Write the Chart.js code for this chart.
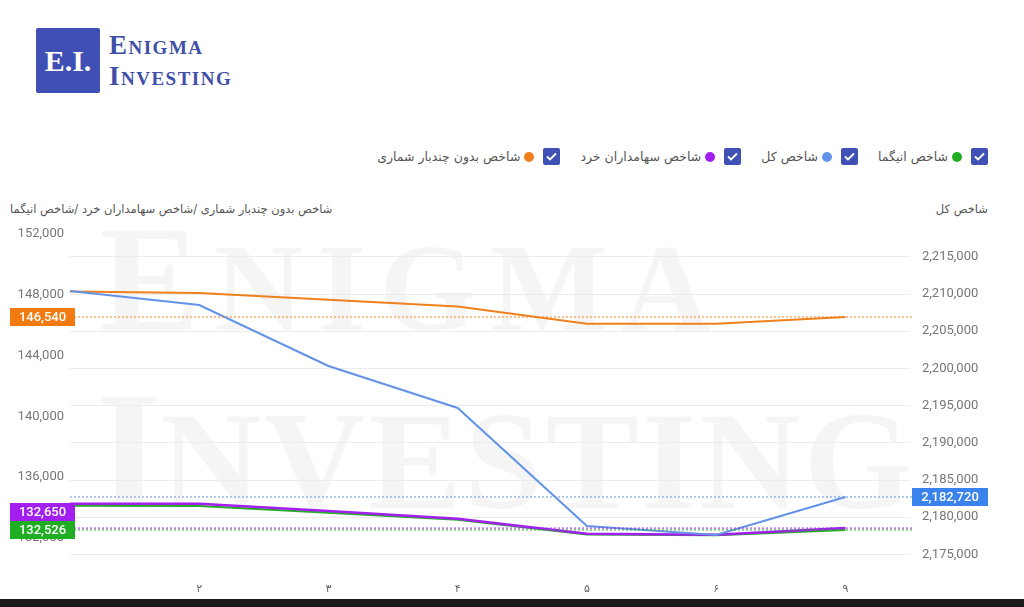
<!DOCTYPE html>
<html lang="fa">
<head>
<meta charset="utf-8">
<title>Enigma Investing</title>
<script src="https://cdn.jsdelivr.net/npm/chart.js@4/dist/chart.umd.min.js"></script>
<style>
  html, body { margin: 0; padding: 0; background: #fff; }
  body { width: 1024px; height: 607px; position: relative; overflow: hidden; font-family: Roboto, "DejaVu Sans", sans-serif; }
  .logo-box { position: absolute; left: 36px; top: 28px; width: 64px; height: 65px; background: #3f4fb3; color: #fff;
    font: bold 30px "Liberation Serif", serif; display: flex; align-items: center; justify-content: center; border-radius: 2px; }
  .logo-text { position: absolute; left: 109px; top: 30px; color: #3f4ea8; font: bold 27px/31px "Liberation Serif", serif;
    font-variant: small-caps; letter-spacing: 1.5px; }
  .legend { position: absolute; top: 148px; right: 36px; display: flex; flex-direction: row; direction: rtl; }
  .legend-item { display: flex; align-items: center; margin-left: 20px; font: 12.5px "DejaVu Sans", sans-serif; color: #555; }
  .legend-item .box { width: 17px; height: 17px; background: #3f51b5; border-radius: 2px; display: flex; align-items: center; justify-content: center; }
  .legend-item .dot { width: 10px; height: 10px; border-radius: 50%; margin-right: 9px; margin-left: 4px; }
  .axis-title { position: absolute; top: 202px; font: 11.5px "DejaVu Sans", sans-serif; color: #555; direction: rtl; white-space: nowrap; }
  #chartWrap { position: absolute; left: 0; top: 200px; width: 1024px; height: 400px; }
  .bottom-bar { position: absolute; left: 0; top: 599px; width: 1024px; height: 8px; background: #1a1a1a; }
</style>
</head>
<body>
<div class="logo-box">E.I.</div>
<div class="logo-text">Enigma<br>Investing</div>
<div class="legend" id="legend"></div>
<div class="axis-title" style="left:10px;">شاخص بدون چندبار شماری /شاخص سهامداران خرد /شاخص انیگما</div>
<div class="axis-title" style="right:36px;">شاخص کل</div>
<div id="chartWrap"><canvas id="indexChart" width="1024" height="400"></canvas></div>
<div class="bottom-bar"></div>

<script>
// روزهای معاملاتی
const xLabels = ['', '۲', '۳', '۴', '۵', '۶', '۹'];

const seriesNames = ['شاخص انیگما', 'شاخص کل', 'شاخص سهامداران خرد', 'شاخص بدون چندبار شماری'];
const seriesColors = ['#22ad25', '#6393e8', '#a31ff0', '#f0801e'];
const tagColors = ['#1fae22', '#3a82ec', '#a21ff0', '#f27a10'];

const enigmaIndex = [134120, 134110, 133660, 133200, 132230, 132180, 132526];
const totalIndex = [2210400, 2208520, 2200320, 2194680, 2178820, 2177610, 2182720];
const smallHoldersIndex = [134250, 134250, 133780, 133260, 132280, 132210, 132650];
const noDoubleCountIndex = [148220, 148110, 147670, 147230, 146100, 146100, 146540];

function toPoints(arr) {
    return arr.map(function (v, i) { return { x: i, y: v }; });
}

// ticks on round multiples of the step only
function stepTicks(step) {
    return function (scale) {
        const ticks = [];
        for (let v = Math.ceil(scale.min / step) * step; v <= scale.max; v += step) ticks.push({ value: v });
        scale.ticks = ticks;
    };
}

const checkSvg = '<svg width="11" height="9" viewBox="0 0 11 9"><path d="M1 4.5 L4 7.5 L10 1.5" fill="none" stroke="#fff" stroke-width="1.8"/></svg>';

// background watermark
const watermark = {
    id: 'watermark',
    beforeDraw(chart) {
        const ctx = chart.ctx;
        ctx.save();
        ctx.fillStyle = 'rgba(0,0,0,0.04)';
        ctx.textBaseline = 'alphabetic';
        ctx.font = 'bold 150px "Liberation Serif", serif';
        ctx.fillText('E', 100, 130);
        ctx.font = 'bold 124px "Liberation Serif", serif';
        ctx.letterSpacing = '14px';
        ctx.fillText('NIGMA', 214, 130);
        ctx.letterSpacing = '0px';
        ctx.font = 'bold 170px "Liberation Serif", serif';
        ctx.fillText('I', 96, 308);
        ctx.font = 'bold 140px "Liberation Serif", serif';
        ctx.letterSpacing = '3px';
        ctx.fillText('NVESTING', 160, 308);
        ctx.restore();
    }
};

// dotted line + value tag for the last point of each series
const lastValueTags = {
    id: 'lastValueTags',
    afterDatasetsDraw(chart) {
        const ctx = chart.ctx;
        const area = chart.chartArea;
        const tags = [];
        chart.data.datasets.forEach(function (ds, i) {
            if (!chart.isDatasetVisible(i)) return;
            const last = ds.data[ds.data.length - 1];
            const y = chart.scales[ds.yAxisID].getPixelForValue(last.y);
            ctx.save();
            ctx.strokeStyle = ds.borderColor;
            ctx.lineWidth = 1;
            ctx.setLineDash([2, 2]);
            ctx.beginPath();
            ctx.moveTo(area.left, y);
            ctx.lineTo(area.right + 2, y);
            ctx.stroke();
            ctx.restore();
            tags.push({ y: y, text: last.y.toLocaleString('en-US'), color: ds.tagColor, side: ds.yAxisID });
        });

        const h = 18;
        // left tags: keep the lowest one, push the others up
        const left = tags.filter(function (t) { return t.side === 'yLeft'; }).sort(function (a, b) { return b.y - a.y; });
        for (let i = 1; i < left.length; i++) {
            if (left[i].y > left[i - 1].y - h) left[i].y = left[i - 1].y - h;
        }

        ctx.save();
        ctx.font = '500 13px Roboto, sans-serif';
        ctx.textAlign = 'center';
        ctx.textBaseline = 'middle';
        tags.forEach(function (t) {
            const x = t.side === 'yLeft' ? 10 : 912;
            const w = t.side === 'yLeft' ? 65 : 76;
            ctx.fillStyle = t.color;
            ctx.fillRect(x, Math.round(t.y - h / 2), w, h);
            ctx.fillStyle = '#fff';
            ctx.fillText(t.text, x + w / 2, t.y + 1);
        });
        ctx.restore();
    }
};

document.addEventListener('DOMContentLoaded', function () {
    const legend = document.getElementById('legend');
    seriesNames.forEach(function (name, i) {
        const item = document.createElement('div');
        item.className = 'legend-item';
        item.innerHTML = '<span class="box">' + checkSvg + '</span><span class="dot" style="background:' + seriesColors[i] + '"></span><span>' + name + '</span>';
        legend.appendChild(item);
    });

    Chart.defaults.font.family = 'Roboto, "DejaVu Sans", sans-serif';

    const ctx = document.getElementById('indexChart');
    const values = [enigmaIndex, totalIndex, smallHoldersIndex, noDoubleCountIndex];
    const axisOf = ['yLeft', 'yRight', 'yLeft', 'yLeft'];
    const drawOrder = [3, 1, 2, 4];

    new Chart(ctx, {
        type: 'line',
        data: {
            datasets: values.map(function (arr, i) {
                return {
                    label: seriesNames[i],
                    data: toPoints(arr),
                    yAxisID: axisOf[i],
                    borderColor: seriesColors[i],
                    backgroundColor: seriesColors[i],
                    tagColor: tagColors[i],
                    borderWidth: i === 2 ? 2.5 : 2,
                    pointRadius: 0,
                    tension: 0,
                    order: drawOrder[i]
                };
            })
        },
        options: {
            responsive: false,
            animation: false,
            layout: { padding: { top: 34, left: 0, right: 0, bottom: 0 } },
            plugins: { legend: { display: false }, tooltip: { enabled: false } },
            scales: {
                x: {
                    type: 'linear',
                    min: 0,
                    max: 6.5,
                    grid: { display: false, drawTicks: false },
                    border: { display: false },
                    afterFit: function (scale) { scale.height = 40; },
                    ticks: {
                        stepSize: 1,
                        padding: 23,
                        color: '#666',
                        font: { size: 11, family: '"DejaVu Sans", sans-serif' },
                        callback: function (v) { return Number.isInteger(v) ? (xLabels[v] || '') : ''; }
                    }
                },
                yLeft: {
                    position: 'left',
                    min: 130550,
                    max: 152000,
                    grid: { display: false, drawTicks: false },
                    border: { display: false },
                    afterFit: function (scale) { scale.width = 70; },
                    afterBuildTicks: stepTicks(4000),
                    ticks: { padding: 6, color: '#777', font: { size: 13 } }
                },
                yRight: {
                    position: 'right',
                    min: 2174248,
                    max: 2218065,
                    grid: { color: '#ececec', drawTicks: false },
                    border: { display: false },
                    afterFit: function (scale) { scale.width = 114; },
                    afterBuildTicks: stepTicks(5000),
                    ticks: { padding: 12, color: '#777', font: { size: 13 } }
                }
            }
        },
        plugins: [watermark, lastValueTags]
    });
});
</script>
</body>
</html>
